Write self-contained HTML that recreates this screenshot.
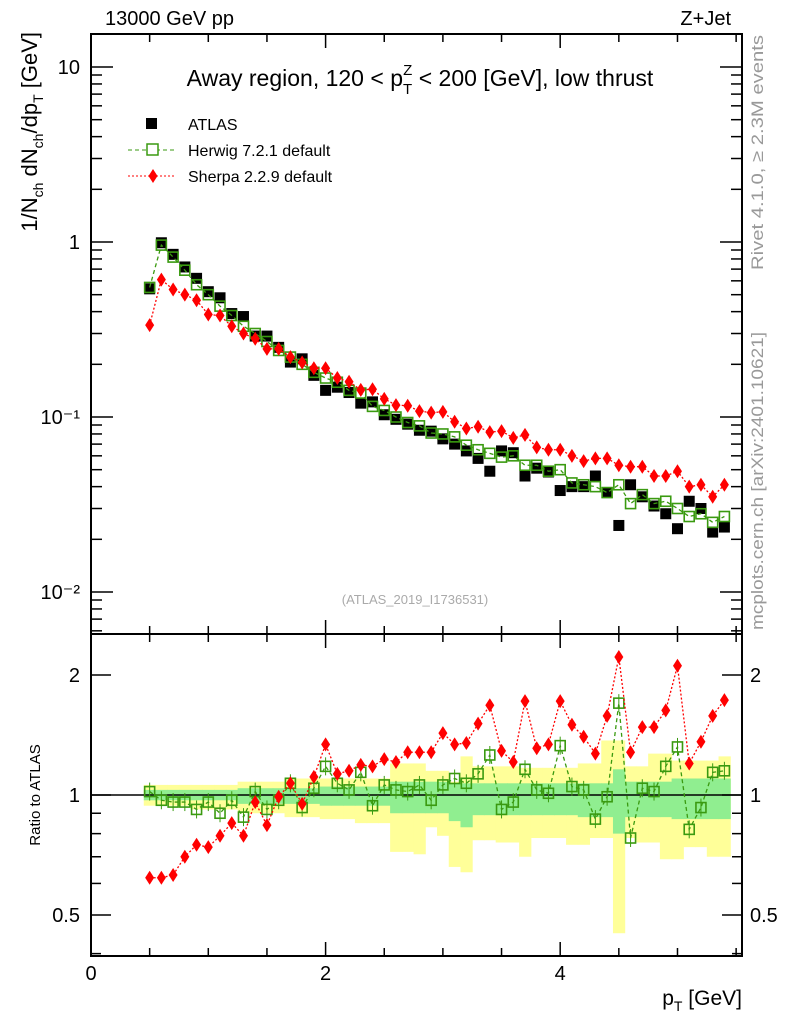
<!DOCTYPE html>
<html><head><meta charset="utf-8">
<style>
html,body{margin:0;padding:0;background:#fff;}
svg{display:block;font-family:"Liberation Sans",Arial,sans-serif;}
</style></head>
<body>
<svg id="chart" width="786" height="1024" viewBox="0 0 786 1024" xmlns="http://www.w3.org/2000/svg">
<text x="105" y="25" font-size="20">13000 GeV pp</text>
<text x="731" y="25" font-size="20" text-anchor="end">Z+Jet</text>
<text x="420" y="86" font-size="23" text-anchor="middle">Away region, 120 &lt; p<tspan font-size="15" dy="8">T</tspan><tspan font-size="15" dx="-9" dy="-19">Z</tspan><tspan dy="11"> &lt; 200 [GeV], low thrust</tspan></text>
<text x="415" y="604" font-size="13" fill="#aaa" text-anchor="middle">(ATLAS_2019_I1736531)</text>
<text transform="translate(763,270) rotate(-90)" font-size="17" fill="#999" textLength="235" lengthAdjust="spacingAndGlyphs">Rivet 4.1.0, ≥ 2.3M events</text>
<text transform="translate(763,630) rotate(-90)" font-size="17" fill="#999" textLength="298" lengthAdjust="spacingAndGlyphs">mcplots.cern.ch [arXiv:2401.10621]</text>
<text transform="translate(37,32) rotate(-90)" font-size="22" text-anchor="end">1/N<tspan font-size="14" dy="6">ch</tspan><tspan dy="-6"> dN</tspan><tspan font-size="14" dy="6">ch</tspan><tspan dy="-6">/dp</tspan><tspan font-size="14" dy="6">T</tspan><tspan dy="-6"> [GeV]</tspan></text>
<text transform="translate(40,795) rotate(-90)" font-size="15" text-anchor="middle">Ratio to ATLAS</text>
<text x="742" y="1005" font-size="21" text-anchor="end">p<tspan font-size="14" dy="6">T</tspan><tspan dy="-6"> [GeV]</tspan></text>
<g>
 <g><rect x="146" y="118" width="11" height="11" fill="#000"/><text x="188" y="130" font-size="16">ATLAS</text></g>
 <g><line x1="128" y1="150" x2="175" y2="150" stroke="#3a9a10" stroke-dasharray="4,3"/><rect x="147" y="144" width="11" height="11" fill="#fff" stroke="#3a9a10" stroke-width="1.5"/><text x="188" y="156" font-size="16">Herwig 7.2.1 default</text></g>
 <g><line x1="128" y1="176" x2="175" y2="176" stroke="red" stroke-dasharray="2,2"/><path d="M153 169 L157.5 176 L153 183 L148.5 176 Z" fill="red"/><text x="188" y="182" font-size="16">Sherpa 2.2.9 default</text></g>
</g>
<g id="plots"></g>
</svg>
<script>
const pT=[0.5,0.6,0.7,0.8,0.9,1.0,1.1,1.2,1.3,1.4,1.5,1.6,1.7,1.8,1.9,2.0,2.1,2.2,2.3,2.4,2.5,2.6,2.7,2.8,2.9,3.0,3.1,3.2,3.3,3.4,3.5,3.6,3.7,3.8,3.9,4.0,4.1,4.2,4.3,4.4,4.5,4.6,4.7,4.8,4.9,5.0,5.1,5.2,5.3,5.4];
const atlas=[0.54,0.99,0.85,0.72,0.62,0.52,0.48,0.39,0.375,0.29,0.29,0.25,0.206,0.215,0.173,0.142,0.148,0.138,0.120,0.122,0.103,0.097,0.091,0.084,0.083,0.075,0.070,0.064,0.058,0.049,0.064,0.0625,0.046,0.051,0.0485,0.038,0.040,0.040,0.046,0.037,0.024,0.041,0.035,0.031,0.028,0.023,0.033,0.030,0.022,0.0235];
const herwig=[0.55,0.96,0.82,0.69,0.57,0.50,0.43,0.38,0.33,0.30,0.27,0.24,0.22,0.20,0.18,0.167,0.158,0.142,0.137,0.115,0.109,0.100,0.093,0.089,0.081,0.080,0.077,0.069,0.065,0.062,0.059,0.060,0.053,0.053,0.049,0.050,0.042,0.041,0.040,0.037,0.041,0.032,0.036,0.032,0.033,0.030,0.027,0.028,0.025,0.027];
const sherpa=[0.335,0.61,0.535,0.50,0.465,0.385,0.38,0.33,0.30,0.28,0.245,0.245,0.22,0.205,0.19,0.19,0.167,0.159,0.143,0.144,0.127,0.117,0.116,0.108,0.106,0.107,0.094,0.086,0.088,0.082,0.083,0.076,0.079,0.067,0.065,0.065,0.060,0.056,0.058,0.058,0.053,0.052,0.052,0.046,0.046,0.049,0.040,0.041,0.035,0.041];
const herwigRatio=[1.02,0.97,0.96,0.96,0.92,0.96,0.90,0.97,0.88,1.02,0.92,0.97,1.07,0.93,1.04,1.18,1.07,1.03,1.14,0.94,1.06,1.03,1.02,1.06,0.97,1.06,1.10,1.07,1.13,1.26,0.92,0.96,1.16,1.03,1.01,1.33,1.05,1.03,0.87,0.99,1.70,0.78,1.04,1.02,1.18,1.32,0.82,0.93,1.14,1.15];
const sherpaRatio=[0.62,0.62,0.63,0.70,0.75,0.74,0.79,0.85,0.79,0.96,0.84,0.99,1.07,0.95,1.11,1.34,1.13,1.15,1.19,1.18,1.23,1.21,1.28,1.28,1.28,1.43,1.34,1.35,1.51,1.68,1.29,1.21,1.72,1.31,1.34,1.72,1.50,1.40,1.27,1.58,2.22,1.28,1.48,1.48,1.63,2.11,1.20,1.36,1.58,1.73];
const yellowHi=[1.06,1.06,1.06,1.06,1.06,1.06,1.06,1.06,1.08,1.08,1.08,1.08,1.10,1.10,1.10,1.10,1.10,1.10,1.10,1.10,1.10,1.20,1.20,1.20,1.15,1.15,1.08,1.25,1.18,1.18,1.18,1.18,1.17,1.17,1.17,1.17,1.17,1.20,1.20,1.37,1.37,1.18,1.18,1.27,1.27,1.22,1.22,1.22,1.22,1.25];
const yellowLo=[0.94,0.94,0.94,0.94,0.92,0.92,0.92,0.92,0.90,0.90,0.90,0.90,0.88,0.88,0.88,0.87,0.87,0.87,0.85,0.85,0.85,0.72,0.72,0.71,0.83,0.79,0.66,0.64,0.77,0.77,0.76,0.76,0.70,0.78,0.78,0.78,0.75,0.75,0.78,0.78,0.45,0.78,0.76,0.76,0.69,0.69,0.74,0.74,0.70,0.70];
const greenHi=[1.03,1.03,1.03,1.03,1.03,1.03,1.03,1.03,1.04,1.04,1.04,1.04,1.04,1.04,1.04,1.05,1.05,1.05,1.05,1.05,1.05,1.08,1.08,1.08,1.08,1.08,1.07,1.07,1.07,1.07,1.07,1.07,1.07,1.07,1.07,1.07,1.07,1.07,1.07,1.07,1.16,1.08,1.08,1.08,1.08,1.10,1.10,1.10,1.10,1.10];
const greenLo=[0.97,0.97,0.97,0.97,0.97,0.97,0.97,0.97,0.95,0.95,0.95,0.95,0.95,0.95,0.95,0.94,0.94,0.94,0.94,0.94,0.94,0.90,0.90,0.90,0.90,0.90,0.86,0.83,0.89,0.89,0.89,0.89,0.89,0.89,0.89,0.89,0.89,0.88,0.88,0.88,0.80,0.88,0.88,0.88,0.88,0.87,0.87,0.87,0.87,0.87];
const mainTicks=[10,1,0.1,0.01];
const mainTickLabels=["10","1","10\u207B\u00B9","10\u207B\u00B2"];
const ratioTicks=[2,1,0.5];
const ratioTickLabels=["2","1","0.5"];
const xTicks=[0,2,4];
const xTickLabels=["0","2","4"];

const NS="http://www.w3.org/2000/svg";
const L=91,R=742,T1=34,B1=634,T2=634,B2=956;
const X0=0,X1=5.55;
const sx=v=>L+(v-X0)/(X1-X0)*(R-L);
const syMain=v=>67-175*(Math.log10(v)-1);
const syRatio=v=>795-398.6*Math.log10(v);
const root=document.getElementById('plots');
function mk(tag,attrs,parent){const e=document.createElementNS(NS,tag);for(const k in attrs)e.setAttribute(k,attrs[k]);(parent||root).appendChild(e);return e;}

const bands=mk('g',{});


pT.forEach((x,i)=>{
  const y=mk('rect',{x:sx(x-0.05),width:sx(x+0.05)-sx(x-0.05)+0.5,y:syRatio(yellowHi[i]),height:syRatio(yellowLo[i])-syRatio(yellowHi[i]),fill:'#ffff99'},bands);
  
  
});
pT.forEach((x,i)=>{
  const g=mk('rect',{x:sx(x-0.05),width:sx(x+0.05)-sx(x-0.05)+0.5,y:syRatio(greenHi[i]),height:syRatio(greenLo[i])-syRatio(greenHi[i]),fill:'#90ee90'},bands);
  
  
});
const one=mk('line',{x1:L,x2:R,y1:syRatio(1),y2:syRatio(1),stroke:'#000','stroke-width':1.5});



[[T1,B1],[T2,B2]].forEach(([t,b],k)=>{
  const f=mk('rect',{x:L,y:t,width:R-L,height:b-t,fill:'none',stroke:'#000','stroke-width':2});
  
  
  for(let v=0;v<=5.5;v+=0.5){
    const major=Math.abs(v-Math.round(v/2)*2)<1e-6;
    const len=major?14:8;
    mk('line',{x1:sx(v),x2:sx(v),y1:t,y2:t+len,stroke:'#000','stroke-width':1.5});
    mk('line',{x1:sx(v),x2:sx(v),y1:b,y2:b-len,stroke:'#000','stroke-width':1.5});
  }
});
for(let d=-3;d<=1;d++){for(let m=1;m<10;m++){const v=m*Math.pow(10,d);const y=syMain(v);if(y<T1||y>B1)continue;const len=m==1?22:11;
  mk('line',{x1:L,x2:L+len,y1:y,y2:y,stroke:'#000','stroke-width':1.5});
  mk('line',{x1:R,x2:R-len,y1:y,y2:y,stroke:'#000','stroke-width':1.5});}}
mainTicks.forEach((v,i)=>{const t=mk('text',{x:80,y:syMain(v)+7,'font-size':20,'text-anchor':'end'});t.textContent=mainTickLabels[i];
  
  });
for(let d=-1;d<=0;d++){for(let m=1;m<10;m++){const v=m*Math.pow(10,d);const y=syRatio(v);if(y<T2||y>B2)continue;const major=(v==1||v==2||v==0.5);const len=major?20:10;
  mk('line',{x1:L,x2:L+len,y1:y,y2:y,stroke:'#000','stroke-width':1.5});
  mk('line',{x1:R,x2:R-len,y1:y,y2:y,stroke:'#000','stroke-width':1.5});}}
ratioTicks.forEach((v,i)=>{
  const t=mk('text',{x:80,y:syRatio(v)+7,'font-size':20,'text-anchor':'end'});t.textContent=ratioTickLabels[i];
  
  
  const t2=mk('text',{x:750,y:syRatio(v)+7,'font-size':20});t2.textContent=ratioTickLabels[i];
  
  
});
xTicks.forEach((v,i)=>{const t=mk('text',{x:sx(v),y:980,'font-size':20,'text-anchor':'middle'});t.textContent=xTickLabels[i];
  
  });

function series(vals,sy,name,kind,errs){
  const g=mk('g',{});
  
  
  if(kind!=='atlas'){
    const pts=pT.map((x,i)=>sx(x)+','+sy(vals[i])).join(' ');
    mk('polyline',{points:pts,fill:'none',stroke:kind==='herwig'?'#3a9a10':'red','stroke-width':1.3,'stroke-dasharray':kind==='herwig'?'4,3':'2,2'},g);
  }
  pT.forEach((x,i)=>{
    const cx=sx(x),cy=sy(vals[i]);let e;
    if(errs){mk('line',{x1:cx,x2:cx,y1:cy-9,y2:cy+9,stroke:kind==='herwig'?'#3a9a10':'red','stroke-width':1},g);}
    if(kind==='atlas'){e=mk('rect',{x:cx-5.5,y:cy-5.5,width:11,height:11,fill:'#000'},g);}
    else if(kind==='herwig'){e=mk('rect',{x:cx-5,y:cy-5,width:10,height:10,fill:'none',stroke:'#3a9a10','stroke-width':1.6},g);}
    else{e=mk('path',{d:`M${cx} ${cy-7}L${cx+4.5} ${cy}L${cx} ${cy+7}L${cx-4.5} ${cy}Z`,fill:'red'},g);}
    
    
  });
}
series(atlas,syMain,'atlas-data','atlas');
series(herwig,syMain,'herwig-main','herwig');
series(sherpa,syMain,'sherpa-main','sherpa');
series(herwigRatio,syRatio,'herwig-ratio','herwig',true);
series(sherpaRatio,syRatio,'sherpa-ratio','sherpa');
</script>
</body></html>
